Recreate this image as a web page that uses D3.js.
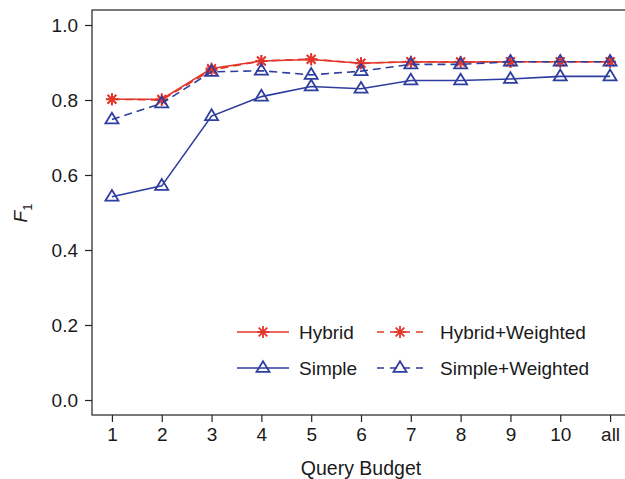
<!DOCTYPE html>
<html lang="en">
<head>
<meta charset="UTF-8">
<title>F1 vs Query Budget</title>
<style>
  body { margin: 0; background: #fff; }
  svg text { font-family: "Liberation Sans", Arial, Helvetica, sans-serif; fill: #1a1a1a; }
</style>
</head>
<body>
<script src="https://d3js.org/d3.v7.min.js"></script>
<script>
// budgets on the x axis
var budgets = ["1", "2", "3", "4", "5", "6", "7", "8", "9", "10", "all"];
var yTicks = [0.0, 0.2, 0.4, 0.6, 0.8, 1.0];

// F1 scores
var hybrid         = [0.802, 0.802, 0.884, 0.904, 0.908, 0.898, 0.902, 0.901, 0.902, 0.902, 0.902];
var hybridWeighted = [0.802, 0.800, 0.880, 0.904, 0.909, 0.898, 0.902, 0.902, 0.902, 0.902, 0.902];
var simple         = [0.542, 0.571, 0.757, 0.809, 0.836, 0.830, 0.852, 0.852, 0.856, 0.863, 0.863];
var simpleWeighted = [0.748, 0.791, 0.875, 0.878, 0.867, 0.877, 0.895, 0.895, 0.902, 0.902, 0.902];

var red = "#e3362b";
var blue = "#2d3e9e";

var series = [
  { name: "Hybrid", values: hybrid, color: red, dash: null, marker: "star" },
  { name: "Hybrid+Weighted", values: hybridWeighted, color: red, dash: "8,5", marker: "star" },
  { name: "Simple", values: simple, color: blue, dash: null, marker: "tri" },
  { name: "Simple+Weighted", values: simpleWeighted, color: blue, dash: "8,5", marker: "tri" }
];

var width = 625, height = 479;
var plotLeft = 92, plotRight = 630, plotTop = 10, plotBottom = 415;

var svg = d3.select("body").append("svg")
  .attr("width", width)
  .attr("height", height);

// x: index 0..10 with 4% padding like R
var x = d3.scaleLinear().domain([-0.4, 10.4]).range([plotLeft, plotRight]);
var y = d3.scaleLinear().domain([-0.04, 1.04]).range([plotBottom, plotTop]);

// box
svg.append("rect")
  .attr("x", plotLeft).attr("y", plotTop)
  .attr("width", plotRight - plotLeft).attr("height", plotBottom - plotTop)
  .attr("fill", "none").attr("stroke", "#222").attr("stroke-width", 1.2);

// y axis
var yAxis = d3.axisLeft(y).tickValues(yTicks).tickFormat(d3.format(".1f")).tickSize(7).tickPadding(7);
var gy = svg.append("g").attr("transform", "translate(" + plotLeft + ",0)").call(yAxis);
gy.select(".domain").remove();
gy.selectAll("line").attr("stroke", "#222").attr("stroke-width", 1.2);
gy.selectAll("text").style("font-size", "19px");

// x axis
var xAxis = d3.axisBottom(x).tickValues(d3.range(budgets.length))
  .tickFormat(function(i) { return budgets[i]; }).tickSize(7).tickPadding(6);
var gx = svg.append("g").attr("transform", "translate(0," + plotBottom + ")").call(xAxis);
gx.select(".domain").remove();
gx.selectAll("line").attr("stroke", "#222").attr("stroke-width", 1.2);
gx.selectAll("text").style("font-size", "19px");

// axis titles
svg.append("text")
  .attr("x", 361).attr("y", 475)
  .attr("text-anchor", "middle")
  .style("font-size", "19.5px")
  .text("Query Budget");

var yt = svg.append("text")
  .attr("transform", "translate(27,213) rotate(-90)")
  .attr("text-anchor", "middle")
  .style("font-size", "19px");
yt.append("tspan").style("font-style", "italic").text("F");
yt.append("tspan").attr("dy", 5).style("font-size", "13px").text("1");

// markers
function drawMarker(g, type, cx, cy, color) {
  if (type === "star") {
    var r = 6;
    var segs = [[-r, 0, r, 0], [0, -r, 0, r], [-r * 0.72, -r * 0.72, r * 0.72, r * 0.72], [-r * 0.72, r * 0.72, r * 0.72, -r * 0.72]];
    segs.forEach(function(s) {
      g.append("line")
        .attr("x1", cx + s[0]).attr("y1", cy + s[1])
        .attr("x2", cx + s[2]).attr("y2", cy + s[3])
        .attr("stroke", color).attr("stroke-width", 1.8);
    });
  } else {
    var s = 6.5;
    g.append("path")
      .attr("d", d3.line()([[cx - s, cy + s * 0.6], [cx + s, cy + s * 0.6], [cx, cy - s * 1.05]]) + "Z")
      .attr("fill", "none").attr("stroke", color).attr("stroke-width", 1.8);
  }
}

var line = d3.line()
  .x(function(d, i) { return x(i); })
  .y(function(d) { return y(d); });

series.forEach(function(s) {
  var g = svg.append("g");
  g.append("path")
    .datum(s.values)
    .attr("d", line)
    .attr("fill", "none")
    .attr("stroke", s.color)
    .attr("stroke-width", 1.6)
    .attr("stroke-dasharray", s.dash);
  s.values.forEach(function(v, i) {
    drawMarker(g, s.marker, x(i), y(v), s.color);
  });
});

// legend, two columns
var legendPos = [[237, 332], [377, 332], [237, 368], [377, 368]];
var legendCols = [{ len: 52, tx: 299 }, { len: 46, tx: 440 }];
series.forEach(function(s, i) {
  var p = legendPos[i];
  var col = legendCols[i % 2];
  var g = svg.append("g");
  g.append("line")
    .attr("x1", p[0]).attr("x2", p[0] + col.len)
    .attr("y1", p[1]).attr("y2", p[1])
    .attr("stroke", s.color).attr("stroke-width", 1.6)
    .attr("stroke-dasharray", s.dash ? "7,6" : null);
  drawMarker(g, s.marker, p[0] + col.len / 2, p[1], s.color);
  g.append("text")
    .attr("x", col.tx).attr("y", p[1] + 7)
    .style("font-size", "19px")
    .text(s.name);
});
</script>
</body>
</html>
